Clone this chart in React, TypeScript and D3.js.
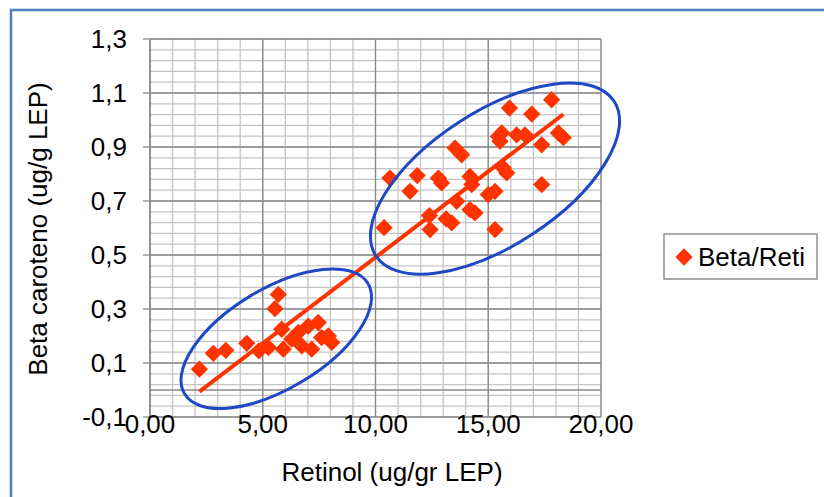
import React from 'react';
import * as d3 from 'd3';

const xTickValues = [0, 5, 10, 15, 20];
const xTickLabels = ['0,00', '5,00', '10,00', '15,00', '20,00'];
const yTickValues = [-0.1, 0.1, 0.3, 0.5, 0.7, 0.9, 1.1, 1.3];
const yTickLabels = ['-0,1', '0,1', '0,3', '0,5', '0,7', '0,9', '1,1', '1,3'];

const retinol = [
  2.19, 2.81, 3.36, 4.29, 4.83, 5.25, 5.69, 5.54, 5.84, 5.91, 6.28, 6.58, 6.73, 7.02, 7.17, 7.46, 7.61, 7.91, 8.06,
  10.38, 10.64, 11.53, 11.85, 12.79, 12.93, 12.39, 12.42, 13.13, 13.38, 13.53, 13.82, 13.6, 14.19, 14.27, 14.19, 14.41,
  15.0, 15.3, 15.3, 15.45, 15.52, 15.67, 15.94, 16.93, 17.81, 15.6, 16.26, 16.63, 17.37, 18.11, 18.33, 17.37, 15.82,
];
const betaCaroteno = [
  0.077, 0.136, 0.147, 0.173, 0.145, 0.157, 0.354, 0.301, 0.225, 0.151, 0.188, 0.213, 0.163, 0.237, 0.151, 0.25, 0.194, 0.2, 0.176,
  0.601, 0.785, 0.736, 0.794, 0.785, 0.767, 0.646, 0.594, 0.634, 0.619, 0.896, 0.871, 0.699, 0.791, 0.761, 0.668, 0.656,
  0.724, 0.736, 0.594, 0.939, 0.921, 0.822, 1.044, 1.022, 1.075, 0.952, 0.945, 0.945, 0.908, 0.952, 0.935, 0.761, 0.804,
];

const seriesName = 'Beta/Reti';
const xTitle = 'Retinol (ug/gr LEP)';
const yTitle = 'Beta caroteno (ug/g LEP)';

// annotation ellipses: centre in data units, radii in px, rotation in degrees
const ellipseCx = [5.6, 15.3];
const ellipseCy = [0.19, 0.783];
const ellipseRx = [107, 142];
const ellipseRy = [50, 67];
const ellipseAngle = [-31, -33];

const W = 824;
const H = 497;
const plot = { left: 150, top: 39, right: 601, bottom: 417 };
const FONT = '"Liberation Sans", Arial, sans-serif';
const RED = '#ff3300';
const BLUE = '#1f48c4';

export default function App() {
  const x = d3.scaleLinear().domain([0, 20]).range([plot.left, plot.right]);
  const y = d3.scaleLinear().domain([-0.1, 1.3]).range([plot.bottom, plot.top]);

  const xMinor = d3.range(0, 20.001, 1);
  const yMinor = d3.range(0, 36).map((i) => -0.1 + i * 0.04);

  const pts = retinol.map((v, i) => [v, betaCaroteno[i]] as [number, number]);
  const mx = d3.mean(retinol) as number;
  const my = d3.mean(betaCaroteno) as number;
  const sxy = d3.sum(pts, (p) => (p[0] - mx) * (p[1] - my));
  const sxx = d3.sum(pts, (p) => (p[0] - mx) * (p[0] - mx));
  const slope = sxy / sxx;
  const intercept = my - slope * mx;
  const [xmin, xmax] = d3.extent(retinol) as [number, number];
  const trend = d3.line<number>().x((v) => x(v)).y((v) => y(intercept + slope * v));

  const diamond = d3.symbol().type(d3.symbolDiamond2).size(190)() as string;

  return (
    <svg width={W} height={H} style={{ position: 'absolute', left: 0, top: 0, background: '#fff' }} fontFamily={FONT}>
      <rect x={0} y={0} width={W} height={H} fill="#fff" />
      <rect x={11} y={10} width={W + 40} height={H + 40} fill="none" stroke="#4f81bd" strokeWidth={2.6} />

      {/* minor gridlines */}
      {xMinor.map((v) => (
        <line key={'xm' + v} x1={x(v)} x2={x(v)} y1={plot.top} y2={plot.bottom} stroke="#c4c4c4" strokeWidth={1.3} />
      ))}
      {yMinor.map((v, i) => (
        <line key={'ym' + i} x1={plot.left} x2={plot.right} y1={y(v)} y2={y(v)} stroke="#c4c4c4" strokeWidth={1.3} />
      ))}
      {/* major gridlines */}
      {xTickValues.map((v) => (
        <line key={'xM' + v} x1={x(v)} x2={x(v)} y1={plot.top} y2={plot.bottom} stroke="#8a8a8a" strokeWidth={1.3} />
      ))}
      {yTickValues.map((v) => (
        <line key={'yM' + v} x1={plot.left} x2={plot.right} y1={y(v)} y2={y(v)} stroke="#8a8a8a" strokeWidth={1.3} />
      ))}
      {/* axes */}
      <line x1={plot.left} x2={plot.right} y1={y(0)} y2={y(0)} stroke="#8a8a8a" strokeWidth={1.3} />
      <line x1={x(0)} x2={x(0)} y1={plot.top} y2={plot.bottom} stroke="#8a8a8a" strokeWidth={1.3} />
      {yTickValues.map((v) => (
        <line key={'yt' + v} x1={plot.left - 7} x2={plot.left} y1={y(v)} y2={y(v)} stroke="#8a8a8a" strokeWidth={1.3} />
      ))}

      {/* tick labels */}
      {yTickValues.map((v, i) => (
        <text key={'yl' + v} x={127} y={y(v)} dy="0.35em" textAnchor="end" fontSize={26} fill="#000">
          {yTickLabels[i]}
        </text>
      ))}
      {xTickValues.map((v, i) => (
        <text key={'xl' + v} x={x(v)} y={433} textAnchor="middle" fontSize={26} fill="#000">
          {xTickLabels[i]}
        </text>
      ))}

      {/* points */}
      {pts.map((p, i) => (
        <path key={'p' + i} d={diamond} transform={`translate(${x(p[0])},${y(p[1])})`} fill={RED} />
      ))}

      {/* trend line */}
      <path d={trend([xmin, xmax]) as string} stroke={RED} strokeWidth={4} fill="none" />

      {/* ellipses */}
      {ellipseCx.map((cx, i) => (
        <ellipse
          key={'e' + i}
          cx={0}
          cy={0}
          rx={ellipseRx[i]}
          ry={ellipseRy[i]}
          transform={`translate(${x(cx)},${y(ellipseCy[i])}) rotate(${ellipseAngle[i]})`}
          fill="none"
          stroke={BLUE}
          strokeWidth={3}
        />
      ))}

      {/* axis titles */}
      <text x={392} y={481} textAnchor="middle" fontSize={26} fill="#000">
        {xTitle}
      </text>
      <text transform={`translate(47,229) rotate(-90)`} textAnchor="middle" fontSize={26} fill="#000">
        {yTitle}
      </text>

      {/* legend */}
      <rect x={664} y={234} width={153} height={45} fill="#fff" stroke="#7f7f7f" strokeWidth={1.3} />
      <path d={diamond} transform="translate(684,257)" fill={RED} />
      <text x={698} y={266} fontSize={26} fill="#000">
        {seriesName}
      </text>
    </svg>
  );
}
